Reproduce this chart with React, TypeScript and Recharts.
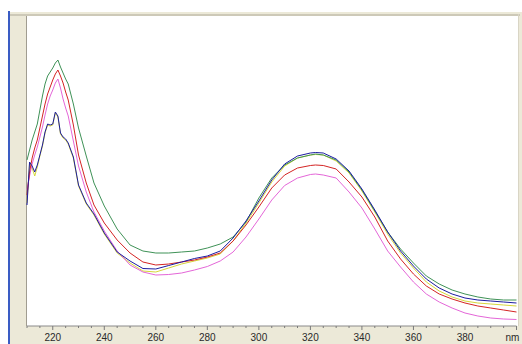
import { LineChart, Line, XAxis, YAxis } from 'recharts'

// wavelength (nm) and absorbance (mAU) per trace
const wavelengths = [
  210, 211, 212, 213, 214, 215, 216, 217, 218, 219, 220, 221, 222, 223, 224, 225, 226, 228, 230, 233,
  236, 240, 245, 250, 255, 260, 265, 270, 275, 280, 285, 290, 295, 300, 305, 310, 315, 320, 322, 325,
  330, 335, 340, 345, 350, 355, 360, 365, 370, 375, 380, 385, 390, 395, 400,
]

const greenTrace = [
  166, 176, 186, 194, 202, 216, 230, 242, 250, 254, 258, 263, 266, 259, 253, 247, 242, 222, 198, 170,
  143, 120, 97, 81, 75, 73, 73, 74, 75, 78, 82, 89, 104, 128, 148, 161, 168, 171, 172, 171,
  166, 154, 136, 115, 94, 77, 63, 50, 42, 36, 32, 29, 27, 26, 26,
]

const redTrace = [
  131, 154, 168, 178, 186, 198, 210, 222, 232, 239, 246, 252, 256, 250, 243, 234, 226, 201, 171, 143,
  121, 103, 86, 73, 64, 61, 62, 64, 66, 69, 73, 85, 101, 119, 138, 151, 158, 160.5, 161, 160.5,
  157, 144, 129, 109, 85, 67, 52, 40, 32, 27, 23, 20, 18, 16, 14,
]

const pinkTrace = [
  136, 150, 162, 171, 179, 189, 199, 211, 222, 230, 236, 243, 247, 238, 227, 218, 210, 185, 160, 134,
  114, 95, 75, 61, 54, 51, 51.5, 53, 56, 59.5, 65, 74, 89, 107, 126, 140.5, 148, 151.5, 152, 151,
  148, 134, 118, 97, 75, 59, 44, 32, 24, 18, 13, 10, 8, 7, 6.5,
]

const blueTrace = [
  121, 164, 160, 154, 161, 171, 181, 194, 202, 201, 202, 214, 210, 193, 189, 187, 183, 169, 141, 123,
  112, 93, 74, 65, 57.5, 57, 60.5, 64, 67.5, 70, 75, 88, 105, 125, 146, 162, 170, 173, 173.5, 173,
  167, 155, 137, 116, 94, 75, 60, 47, 38, 32, 28, 26, 25, 24, 23,
]

const yellowTrace = [
  123, 163, 158, 150, 159, 170, 180, 193, 201, 200, 201, 213, 209, 192, 188, 186, 182, 168, 140, 122,
  111, 92, 73, 63, 55, 54, 58, 62, 65, 68, 72, 85, 103, 123, 144, 160, 168, 171, 171.5, 171,
  165, 153, 135, 114, 92, 73, 58, 44, 35, 29, 25, 23, 22, 21, 20,
]

const tickValues = [
  210, 215, 220, 225, 230, 235, 240, 245, 250, 255, 260, 265, 270, 275, 280, 285, 290, 295, 300,
  305, 310, 315, 320, 325, 330, 335, 340, 345, 350, 355, 360, 365, 370, 375, 380, 385, 390, 395, 400,
]

const data = wavelengths.map((w, i) => ({
  w,
  green: greenTrace[i],
  red: redTrace[i],
  pink: pinkTrace[i],
  blue: blueTrace[i],
  yellow: yellowTrace[i],
}))

function AxisTick(props: any) {
  const { x, y, payload } = props
  const v = payload.value
  const major = v % 20 === 0
  let label = ''
  if (major) label = v === 400 ? 'nm' : String(v)
  return (
    <g>
      <line x1={x} x2={x} y1={y} y2={y + (major ? 4 : 2)} stroke="#7a7a7a" />
      {label && (
        <text
          x={v === 400 ? x - 4 : x}
          y={y + 15}
          textAnchor="middle"
          fontSize={10}
          fontFamily="'Liberation Sans', Arial, sans-serif"
          fill="#2a2a2a"
        >
          {label}
        </text>
      )}
    </g>
  )
}

export default function App() {
  return (
    <div style={{ position: 'absolute', left: 0, top: 0, width: 522, height: 344, background: '#fff', overflow: 'hidden' }}>
      <div style={{ position: 'absolute', left: 8, top: 11, width: 2, height: 333, background: '#3a5cc4' }} />
      <div style={{ position: 'absolute', left: 10, top: 12, width: 512, height: 332, background: '#ece9d8' }} />
      <div style={{ position: 'absolute', left: 10, top: 14, width: 510, height: 2, background: '#cdc9b8' }} />
      <div style={{ position: 'absolute', left: 518, top: 14, width: 1, height: 312, background: '#d9d5c5' }} />
      <div style={{ position: 'absolute', left: 26, top: 16, width: 1, height: 310, background: '#a09c90' }} />
      <div style={{ position: 'absolute', left: 27, top: 16, width: 491, height: 310, background: '#fff' }} />
      <div style={{ position: 'absolute', left: 0, top: 0 }}>
        <LineChart width={522} height={344} data={data} margin={{ top: 17, right: 5.5, bottom: 0, left: 27 }}>
          <XAxis
            dataKey="w"
            type="number"
            domain={[210, 400]}
            ticks={tickValues}
            interval={0}
            height={18}
            tickSize={0}
            tickMargin={0}
            tickLine={false}
            axisLine={{ stroke: '#8a8a8a' }}
            tick={<AxisTick />}
          />
          <YAxis hide domain={[0, 309]} />
          <Line dataKey="yellow" stroke="#d6d63a" strokeWidth={1} dot={false} isAnimationActive={false} />
          <Line dataKey="pink" stroke="#e466d8" strokeWidth={1} dot={false} isAnimationActive={false} />
          <Line dataKey="red" stroke="#d42424" strokeWidth={1} dot={false} isAnimationActive={false} />
          <Line dataKey="green" stroke="#3f9257" strokeWidth={1} dot={false} isAnimationActive={false} />
          <Line dataKey="blue" stroke="#1c1ca0" strokeWidth={1} dot={false} isAnimationActive={false} />
        </LineChart>
      </div>
    </div>
  )
}
